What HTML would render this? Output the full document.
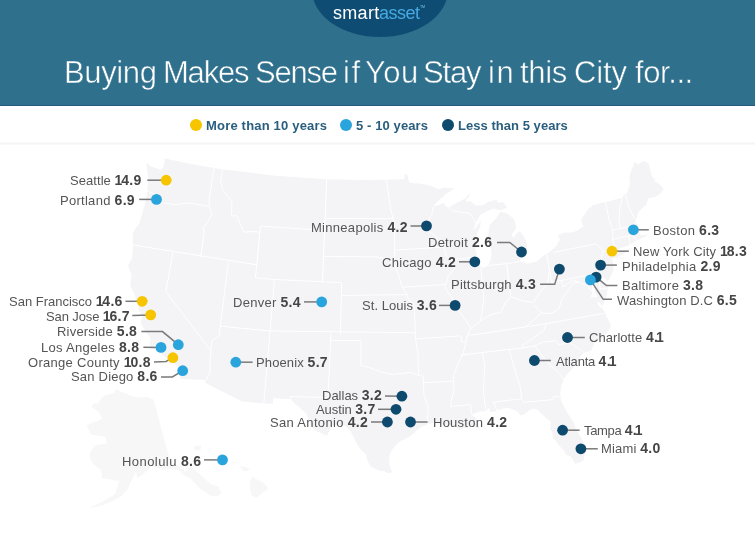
<!DOCTYPE html>
<html><head><meta charset="utf-8"><style>
*{margin:0;padding:0;box-sizing:border-box}
html,body{width:755px;height:536px;overflow:hidden;background:#fff}
body{position:relative;font-family:"Liberation Sans",sans-serif}
.hdr{position:absolute;left:0;top:0;width:755px;height:106px;background:#2f708d;border-bottom:1px solid #245c79;overflow:hidden}
.ell{position:absolute;left:311.5px;top:-57px;width:136px;height:94px;border-radius:50%;background:#0f4c73}
.logo{position:absolute;will-change:transform;top:4.1px;font-size:18px;line-height:18px;color:#fff;white-space:nowrap}
.logo span{color:#4fb0e6}
.tm{position:absolute;left:420px;top:5.2px;font-size:3.6px;line-height:4.5px;color:#7fc3e8;letter-spacing:-0.2px}
.title{position:absolute;will-change:transform;-webkit-text-stroke:0.5px #2f708d;top:56.8px;font-size:31px;line-height:31px;color:#fff;letter-spacing:-0.305px;white-space:nowrap}
.sep{position:absolute;left:0;top:141.5px;width:755px;height:3.5px;background:linear-gradient(#fbfbfb,#f5f5f5 50%,#fbfbfb)}
.leg{position:absolute;will-change:transform;top:118.6px;font-size:13px;line-height:13px;font-weight:bold;color:#2a5e7e;white-space:nowrap}
.ld{position:absolute;width:12.4px;height:12.4px;border-radius:50%;top:118.8px}
.map,.ov{position:absolute;left:0;top:0}
.lb{position:absolute;will-change:transform;font-size:13px;line-height:13px;color:#555;white-space:nowrap}
.lb b{color:#454545;font-size:14px;letter-spacing:0.3px}
</style></head><body>
<div class="hdr"><div class="ell"></div>
<div class="logo" id="lg0" style="left:332.9px;letter-spacing:0.3px">smart</div><div class="logo" id="lg1" style="left:379.3px;letter-spacing:-0.5px;color:#45a9e1">asset</div><div class="tm">TM</div>
<div class="title" id="tw0" style="left:64.00px;letter-spacing:-0.380px">Buying</div><div class="title" id="tw1" style="left:162.80px;letter-spacing:-1.200px">Makes</div><div class="title" id="tw2" style="left:254.60px;letter-spacing:-1.200px">Sense</div><div class="title" id="tw3" style="left:342.60px;letter-spacing:1.500px">if</div><div class="title" id="tw4" style="left:365.10px;letter-spacing:0.450px">You</div><div class="title" id="tw5" style="left:423.35px;letter-spacing:-1.200px">Stay</div><div class="title" id="tw6" style="left:487.60px;letter-spacing:1.500px">in</div><div class="title" id="tw7" style="left:520.00px;letter-spacing:-0.300px">this</div><div class="title" id="tw8" style="left:574.00px;letter-spacing:-0.167px">City</div><div class="title" id="tw9" style="left:635.00px;letter-spacing:-0.420px">for...</div>
</div>
<div class="sep"></div>
<div class="ld" style="left:189.8px;background:#f6c500"></div><div class="leg" style="left:206.1px;letter-spacing:0.19px">More than 10 years</div>
<div class="ld" style="left:339.8px;background:#2aa4dd"></div><div class="leg" style="left:355.9px;letter-spacing:0.1px">5 - 10 years</div>
<div class="ld" style="left:441.8px;background:#0e4a6d"></div><div class="leg" style="left:458px;letter-spacing:0.04px">Less than 5 years</div>
<svg class="map" width="755" height="536" viewBox="0 0 755 536"><path fill="#f4f4f6" d="M146.6,162.5 L150.5,166.2 L156.4,168.2 L161.0,169.8 L163.3,167.4 L165.0,158.5 L188.5,163.4 L214.0,167.9 L222.5,169.2 L274.9,175.7 L326.7,179.2 L362.2,180.0 L386.4,179.7 L404.6,179.1 L404.5,174.3 L406.2,174.3 L407.4,175.2 L408.8,180.5 L409.4,182.5 L416.5,183.4 L420.2,183.4 L427.4,184.9 L432.8,186.4 L438.3,189.2 L443.5,187.5 L450.7,188.2 L454.4,188.5 L448.3,192.3 L440.7,198.6 L436.5,202.8 L433.1,206.3 L438.4,205.2 L443.7,202.9 L446.7,207.1 L448.5,207.4 L452.9,204.7 L458.1,202.3 L465.0,198.4 L469.1,194.1 L470.1,195.3 L466.8,198.8 L465.8,202.1 L470.6,201.0 L475.6,205.6 L482.9,205.4 L488.0,201.9 L492.4,200.7 L496.9,199.7 L497.7,202.8 L503.1,202.1 L505.3,205.0 L507.4,207.3 L504.8,208.6 L500.8,210.5 L493.3,208.6 L486.3,211.4 L483.7,213.0 L480.3,214.7 L475.6,223.6 L474.5,226.3 L472.6,231.0 L476.0,227.4 L478.4,223.9 L480.9,221.1 L480.1,226.9 L477.1,233.7 L476.4,240.9 L475.4,250.1 L477.1,257.0 L479.6,264.7 L483.0,267.9 L487.6,266.1 L490.4,260.6 L491.6,254.0 L490.7,246.4 L487.8,237.7 L488.8,229.8 L490.1,224.5 L493.9,220.8 L495.9,218.6 L498.6,214.3 L500.8,211.7 L504.9,212.8 L508.9,214.8 L514.1,219.2 L515.8,224.8 L515.9,228.7 L511.5,234.5 L513.9,238.0 L516.1,233.8 L519.7,231.3 L524.1,236.5 L526.9,244.1 L526.9,249.0 L523.6,252.8 L522.1,256.3 L519.4,261.2 L523.0,262.6 L527.1,263.9 L533.7,262.2 L536.5,261.8 L542.5,256.2 L546.9,253.8 L550.6,251.2 L556.3,246.0 L560.0,239.7 L557.8,235.3 L563.6,232.8 L571.3,232.6 L577.6,230.7 L581.0,228.0 L583.5,226.2 L581.5,221.3 L581.2,219.5 L584.8,214.1 L588.5,208.7 L593.4,204.9 L605.5,202.0 L622.2,197.8 L624.9,193.3 L627.4,193.5 L627.9,189.8 L630.2,183.9 L629.3,178.8 L630.3,173.3 L634.6,162.0 L638.3,164.4 L643.0,161.1 L648.3,163.3 L652.3,177.0 L656.4,180.5 L653.0,180.1 L660.7,185.2 L663.7,188.9 L659.8,194.2 L653.9,197.3 L648.3,198.2 L646.2,204.8 L641.4,208.8 L638.4,212.2 L636.2,218.8 L635.3,223.0 L637.7,225.0 L635.0,229.7 L638.2,230.9 L641.4,235.4 L646.2,234.7 L644.8,231.1 L647.1,235.5 L642.9,237.6 L636.7,240.6 L634.0,241.9 L629.8,245.0 L625.2,246.5 L620.5,247.9 L616.3,251.0 L613.8,253.5 L612.4,255.8 L612.0,258.6 L612.4,260.4 L613.4,264.8 L613.4,269.4 L611.5,274.5 L608.7,280.3 L607.4,281.5 L605.3,278.5 L600.6,275.6 L600.4,276.9 L602.9,281.6 L606.6,283.7 L607.8,287.8 L607.0,293.8 L604.9,300.8 L602.3,305.9 L597.7,301.0 L596.7,296.0 L594.7,291.2 L593.2,283.7 L594.1,278.3 L595.6,276.0 L591.7,281.4 L592.7,291.7 L590.8,297.3 L596.9,297.3 L598.0,304.9 L602.4,308.5 L605.4,313.1 L606.8,317.3 L611.1,324.9 L608.9,329.9 L603.1,337.6 L595.3,341.1 L590.8,351.0 L584.6,352.2 L580.9,355.5 L577.8,361.9 L572.5,368.6 L567.9,373.2 L564.0,379.0 L561.3,385.8 L560.2,392.9 L561.0,401.0 L565.0,408.5 L568.2,414.3 L574.1,422.7 L575.5,428.0 L578.0,432.6 L583.8,442.7 L584.3,448.8 L584.9,453.7 L583.4,460.7 L579.7,462.6 L575.2,463.7 L570.5,456.1 L566.2,455.0 L563.0,449.3 L559.7,446.2 L556.0,441.2 L552.6,437.4 L552.5,432.4 L550.3,429.6 L550.8,421.5 L546.4,418.4 L541.3,413.5 L537.4,409.7 L534.0,408.6 L530.2,409.5 L524.7,414.0 L520.0,415.5 L519.1,412.9 L515.4,410.2 L508.6,408.0 L503.2,408.6 L497.9,409.9 L494.7,411.5 L490.4,412.0 L488.9,407.8 L486.0,411.2 L480.5,411.2 L475.2,413.0 L472.0,414.5 L473.3,416.9 L476.7,417.8 L474.9,422.4 L478.5,425.1 L479.9,428.7 L476.5,427.8 L471.9,425.8 L467.7,428.6 L463.2,427.8 L460.1,429.9 L455.5,427.2 L449.8,425.2 L444.3,425.0 L437.6,423.0 L433.3,423.0 L427.3,424.3 L421.4,427.1 L417.7,429.4 L414.0,433.1 L409.7,436.4 L404.2,439.2 L399.9,441.8 L395.5,445.7 L391.2,450.8 L389.6,455.8 L389.1,459.5 L389.7,465.6 L392.1,472.2 L388.1,473.2 L384.7,471.3 L379.1,470.8 L373.4,467.9 L370.0,466.1 L367.8,461.2 L365.6,453.9 L361.2,450.2 L356.8,444.1 L353.0,436.0 L350.4,431.1 L345.0,425.8 L338.5,424.8 L334.7,424.8 L330.9,426.6 L329.1,431.6 L327.3,435.3 L325.6,435.6 L321.9,433.3 L316.5,431.3 L311.3,426.8 L309.3,421.7 L306.5,414.1 L300.4,408.2 L294.3,402.9 L291.3,399.6 L290.8,399.2 L273.3,398.2 L272.8,403.9 L242.3,401.6 L222.8,391.8 L204.8,382.6 L206.1,380.0 L180.7,379.0 L179.9,375.4 L180.0,371.5 L177.5,367.3 L174.5,363.5 L171.0,362.1 L170.4,359.6 L169.6,357.8 L166.5,357.7 L162.8,355.1 L158.3,351.1 L153.4,349.3 L150.6,349.1 L149.8,343.1 L150.5,339.2 L148.6,335.6 L145.3,331.6 L140.8,322.8 L141.1,318.9 L143.2,316.0 L141.5,314.2 L138.2,310.3 L138.2,305.0 L138.7,302.7 L135.4,299.1 L135.2,295.1 L130.1,285.9 L131.6,274.2 L129.5,269.7 L128.0,265.3 L130.4,261.2 L132.0,258.2 L133.1,248.3 L132.8,240.8 L132.9,233.5 L135.6,228.0 L139.4,223.5 L142.7,212.2 L144.2,207.2 L145.6,200.8 L147.4,191.8 L147.6,186.5 L148.0,182.6 L148.2,177.3 L146.9,170.3 L146.6,162.5 Z M612.0,258.6 L615.8,257.9 L623.0,254.0 L631.0,247.7 L626.0,249.9 L620.5,251.9 L614.1,254.5 L612.0,258.6 Z"/><path fill="#f7f7f8" d="M153.5,399.4 L147.0,397.1 L141.7,397.4 L135.3,396.9 L130.6,396.0 L126.2,393.2 L121.4,392.1 L116.3,389.3 L113.8,392.7 L110.0,394.0 L104.6,395.5 L101.8,397.8 L97.9,403.5 L93.6,403.3 L91.8,406.9 L96.2,410.3 L99.4,413.1 L102.3,418.7 L98.2,420.8 L94.0,422.1 L86.7,425.5 L90.2,433.6 L93.4,435.0 L100.3,436.0 L106.1,437.3 L106.1,440.9 L106.7,444.6 L102.1,443.9 L95.4,445.6 L92.0,449.3 L89.3,455.2 L91.8,461.6 L94.2,465.0 L100.8,469.8 L102.2,478.8 L107.5,478.8 L114.5,480.4 L119.7,480.8 L114.8,494.2 L107.4,499.1 L99.8,503.0 L91.8,506.6 L90.5,507.8 L101.6,505.5 L111.2,501.7 L120.5,496.8 L127.3,490.0 L130.3,482.8 L136.0,472.0 L137.4,477.8 L141.5,475.5 L146.0,471.7 L151.7,466.1 L155.2,467.2 L162.4,470.1 L170.5,468.8 L175.8,469.3 L179.6,470.7 L184.7,475.7 L191.0,478.7 L195.3,483.7 L200.0,488.6 L205.0,491.7 L210.4,495.5 L216.8,496.4 L221.5,493.0 L218.8,486.8 L210.7,484.3 L200.7,475.0 L190.1,465.7 L185.2,471.7 L177.9,465.0 L171.6,466.3 L153.5,399.4 Z M251.8,476.6 L263.8,482.9 L268.3,488.4 L256.4,497.7 L251.1,494.8 L249.6,484.5 L251.8,476.6 Z M239.8,465.6 L250.2,468.7 L247.3,471.1 L243.5,471.1 L239.8,465.6 Z M216.3,455.6 L221.2,453.7 L225.6,460.1 L218.9,460.0 L216.3,455.6 Z M193.7,446.5 L201.2,445.7 L200.4,450.5 L194.4,449.6 L193.7,446.5 Z M230.8,461.7 L239.8,462.4 L230.8,463.2 L230.8,461.7 Z"/><path fill="none" stroke="#fff" stroke-width="1" stroke-linejoin="round" d="M147.1,191.1 L155.7,194.3 L156.8,197.9 L161.4,202.9 L170.4,204.0 L176.7,204.6 L185.2,203.3 L190.7,203.3 L209.3,206.4 M214.0,167.9 L209.0,200.7 L209.3,206.4 M209.3,206.4 L212.1,213.4 L208.3,220.7 L203.5,227.8 L204.0,234.5 L200.5,257.7 M133.8,245.1 L256.7,264.8 M172.8,253.1 L165.9,291.7 L211.0,351.0 M211.0,351.0 L210.0,360.0 L210.0,371.7 L206.1,380.0 M211.0,351.0 L211.6,340.7 L218.9,336.4 L228.5,261.7 M222.5,169.2 L220.7,182.2 L222.7,189.8 L231.9,201.9 L231.5,216.2 L236.6,215.5 L243.8,232.1 L255.9,231.5 L260.0,232.8 M260.6,226.1 L255.4,277.8 L274.5,279.5 M260.6,226.1 L324.6,230.5 M220.2,326.1 L270.1,331.0 M274.5,279.5 L263.8,403.3 M274.5,279.5 L341.7,282.6 M322.5,282.2 L326.7,179.2 M325.1,218.4 L393.2,218.7 M323.6,256.3 L375.8,256.9 L385.2,258.6 L393.8,262.9 M341.7,282.6 L340.4,334.1 M341.4,295.5 L407.2,294.6 M270.1,331.0 L415.3,332.7 M330.8,333.9 L330.6,340.4 L328.0,397.6 L290.2,396.4 L291.3,399.2 M330.6,340.4 L361.0,340.6 L360.8,365.4 L369.1,367.3 L381.6,372.2 L392.0,374.4 L402.5,373.4 L410.8,372.4 L418.4,375.3 L423.1,376.2 M423.1,376.2 L424.0,395.7 L428.1,406.7 L427.3,424.3 M418.4,375.3 L418.0,352.9 L415.5,339.0 L414.2,305.8 L407.2,297.1 L407.2,294.6 L402.4,287.3 M423.4,382.8 L453.6,381.0 M386.4,179.7 L390.8,210.3 L393.2,218.7 L394.4,226.8 L394.9,250.0 L393.8,262.9 M393.8,262.9 L398.9,275.6 L402.1,287.1 L402.4,287.3 M394.9,250.0 L443.8,247.2 M433.1,206.9 L431.8,214.7 L427.6,221.4 L428.5,230.3 L436.8,237.5 L443.8,247.2 M443.8,247.2 L446.5,256.0 L450.6,259.6 L455.1,268.2 L448.0,276.5 L444.8,287.1 L449.3,294.5 L458.0,305.3 L458.4,310.4 L466.3,321.2 L470.9,328.4 M402.4,287.3 L444.7,284.5 M470.9,328.4 L467.5,335.2 L466.0,341.7 L462.9,354.8 L458.3,362.8 L453.9,374.6 L453.6,381.0 L454.0,391.0 L451.4,400.0 L450.8,406.4 M415.5,339.0 L460.9,335.8 L461.9,342.1 L466.0,341.7 M450.8,406.4 L470.7,404.6 L471.5,414.6 M460.8,355.0 L522.4,348.0 M482.5,352.8 L484.7,365.3 L483.4,392.0 L485.9,410.6 M509.2,349.6 L516.6,375.4 L520.1,386.3 L521.7,398.7 M496.8,410.6 L493.8,402.2 L521.7,398.7 L523.2,402.3 L552.5,399.6 L554.2,396.4 L559.8,396.8 M467.5,335.2 L482.1,333.7 L526.1,326.8 L546.6,323.6 M546.6,323.6 L544.0,330.5 L534.6,337.1 L522.2,345.3 L522.4,348.0 M546.6,323.6 L604.7,313.2 M522.4,348.0 L534.9,346.0 L541.7,342.4 L556.1,340.7 L558.9,344.7 L570.1,342.7 L584.1,352.3 M534.9,346.0 L546.8,362.1 L555.4,369.6 L564.0,379.0 M526.1,326.8 L541.3,312.8 L534.1,305.3 M541.3,312.8 L551.7,313.7 L559.1,308.6 L562.3,297.6 L569.0,289.9 L573.7,282.4 L578.8,282.7 M470.9,328.4 L480.4,321.1 L490.9,314.7 L500.7,312.2 L505.6,302.6 L510.8,296.7 L522.4,300.9 L533.7,302.4 L536.9,296.8 L541.0,290.9 L547.8,283.3 L549.5,270.8 M480.7,266.9 L483.8,297.5 L481.8,314.5 L480.4,321.1 M450.6,259.6 L477.1,257.0 M484.7,265.7 L506.7,263.7 L519.5,261.5 M506.7,263.7 L510.8,296.7 M546.7,253.6 L551.5,282.4 M551.5,282.4 L597.2,273.4 M561.5,280.6 L562.7,287.1 L573.2,279.9 L579.8,282.6 L587.6,286.2 L596.7,296.0 M553.9,252.3 L595.4,243.9 L598.3,245.9 L603.3,250.7 M603.3,250.7 L601.0,258.4 L603.0,263.2 L606.1,265.8 L600.8,271.6 M603.3,250.7 L611.8,253.5 M597.2,273.4 L600.5,289.3 L607.8,287.8 M605.5,202.0 L609.1,219.7 L612.9,230.0 L612.6,239.3 L615.2,249.9 L614.2,252.8 M622.2,197.8 L619.8,207.8 L619.0,222.6 L620.4,228.4 M612.9,230.0 L631.1,226.1 L635.2,222.8 M624.9,193.3 L629.8,209.2 L635.4,219.7 M612.6,239.3 L628.6,235.8 L632.5,234.8 L636.5,240.6 M628.6,235.8 L630.3,244.9 M448.5,207.4 L451.5,210.6 L461.7,212.2 L470.0,213.3 L474.3,219.9 L475.6,223.6"/></svg>
<svg class="ov" width="755" height="536" viewBox="0 0 755 536"><g fill="none" stroke="#7a7a7a" stroke-width="1.5"><polyline points="147.3,180.2 166.2,180.2"/><polyline points="139.2,199.4 156.5,199.4"/><polyline points="125.5,301.3 142.2,301.3"/><polyline points="132.3,315.6 150.7,314.9"/><polyline points="141.4,331.6 162.5,331.6 178.3,344.7"/><polyline points="143.4,347.2 161.0,347.4"/><polyline points="154.0,362.0 166.0,361.5 172.9,357.7"/><polyline points="161.0,376.9 172.4,376.9 182.7,370.7"/><polyline points="304.0,301.9 321.7,301.9"/><polyline points="410.5,226.0 426.5,225.9"/><polyline points="497.0,242.4 509.8,242.4 521.5,252.0"/><polyline points="459.0,261.8 474.8,261.8"/><polyline points="540.1,284.3 554.7,284.3 559.4,269.1"/><polyline points="439.0,305.4 455.1,305.4"/><polyline points="385.0,396.0 401.9,396.2"/><polyline points="378.0,409.3 396.0,409.3"/><polyline points="371.0,422.0 387.4,422.0"/><polyline points="204.0,459.9 222.5,459.9"/><polyline points="235.8,362.2 252.6,362.2"/><polyline points="633.4,229.8 648.8,229.8"/><polyline points="612.0,251.2 628.8,251.2"/><polyline points="600.6,265.1 616.9,265.1"/><polyline points="596.1,277.1 606.5,285.6 617.4,285.6"/><polyline points="590.4,279.9 603.2,299.3 612.0,299.3"/><polyline points="567.5,337.5 584.8,337.5"/><polyline points="534.4,360.5 550.8,360.5"/><polyline points="562.6,430.2 579.6,430.2"/><polyline points="580.9,448.8 597.8,448.8"/><polyline points="410.5,422.0 427.7,422.0"/></g><circle cx="166.2" cy="180.2" r="5.4" fill="#f6c500"/><circle cx="156.5" cy="199.4" r="5.4" fill="#2aa4dd"/><circle cx="142.2" cy="301.3" r="5.4" fill="#f6c500"/><circle cx="150.7" cy="314.9" r="5.4" fill="#f6c500"/><circle cx="178.3" cy="344.7" r="5.4" fill="#2aa4dd"/><circle cx="161" cy="347.4" r="5.4" fill="#2aa4dd"/><circle cx="172.9" cy="357.7" r="5.4" fill="#f6c500"/><circle cx="182.7" cy="370.7" r="5.4" fill="#2aa4dd"/><circle cx="321.7" cy="301.9" r="5.4" fill="#2aa4dd"/><circle cx="426.5" cy="225.9" r="5.4" fill="#0e4a6d"/><circle cx="521.5" cy="252" r="5.4" fill="#0e4a6d"/><circle cx="474.8" cy="261.8" r="5.4" fill="#0e4a6d"/><circle cx="559.4" cy="269.1" r="5.4" fill="#0e4a6d"/><circle cx="455.1" cy="305.4" r="5.4" fill="#0e4a6d"/><circle cx="401.9" cy="396.2" r="5.4" fill="#0e4a6d"/><circle cx="396" cy="409.3" r="5.4" fill="#0e4a6d"/><circle cx="387.4" cy="422" r="5.4" fill="#0e4a6d"/><circle cx="222.5" cy="459.9" r="5.4" fill="#2aa4dd"/><circle cx="235.8" cy="362.2" r="5.4" fill="#2aa4dd"/><circle cx="633.4" cy="229.8" r="5.4" fill="#2aa4dd"/><circle cx="612" cy="251.2" r="5.4" fill="#f6c500"/><circle cx="600.6" cy="265.1" r="5.4" fill="#0e4a6d"/><circle cx="596.1" cy="277.1" r="5.4" fill="#0e4a6d"/><circle cx="567.5" cy="337.5" r="5.4" fill="#0e4a6d"/><circle cx="534.4" cy="360.5" r="5.4" fill="#0e4a6d"/><circle cx="562.6" cy="430.2" r="5.4" fill="#0e4a6d"/><circle cx="580.9" cy="448.8" r="5.4" fill="#0e4a6d"/><circle cx="410.5" cy="422" r="5.4" fill="#0e4a6d"/><circle cx="590.4" cy="279.9" r="5.4" fill="#2aa4dd"/></svg>
<div class="lb" id="Seattle" style="left:70.4px;top:174.1px;letter-spacing:0.063px">Seattle <b><span style="margin-right:-1.5px">1</span>4.9</b></div><div class="lb" id="Portland" style="left:59.6px;top:193.5px;letter-spacing:0.278px">Portland <b>6.9</b></div><div class="lb" id="San_Francisco" style="left:9.0px;top:295.4px;letter-spacing:0.000px">San Francisco <b><span style="margin-right:-1.5px">1</span>4.6</b></div><div class="lb" id="San_Jose" style="left:46.2px;top:310.0px;letter-spacing:-0.111px">San Jose <b><span style="margin-right:-1.5px">1</span>6.7</b></div><div class="lb" id="Riverside" style="left:56.8px;top:325.1px;letter-spacing:0.200px">Riverside <b>5.8</b></div><div class="lb" id="Los_Angeles" style="left:41.2px;top:340.9px;letter-spacing:0.292px">Los Angeles <b>8.8</b></div><div class="lb" id="Orange_County" style="left:27.8px;top:355.8px;letter-spacing:0.286px">Orange County <b><span style="margin-right:-1.5px">1</span>0.8</b></div><div class="lb" id="San_Diego" style="left:70.6px;top:370.4px;letter-spacing:0.200px">San Diego <b>8.6</b></div><div class="lb" id="Denver" style="left:232.8px;top:295.7px;letter-spacing:0.286px">Denver <b>5.4</b></div><div class="lb" id="Minneapolis" style="left:311.2px;top:220.5px;letter-spacing:0.292px">Minneapolis <b>4.2</b></div><div class="lb" id="Detroit" style="left:427.6px;top:236.4px;letter-spacing:0.250px">Detroit <b>2.6</b></div><div class="lb" id="Chicago" style="left:382.2px;top:256.1px;letter-spacing:0.312px">Chicago <b>4.2</b></div><div class="lb" id="Pittsburgh" style="left:451.0px;top:278.3px;letter-spacing:0.227px">Pittsburgh <b>4.3</b></div><div class="lb" id="St_Louis" style="left:362.0px;top:299.3px;letter-spacing:0.050px">St. Louis <b>3.6</b></div><div class="lb" id="Dallas" style="left:322.4px;top:389.4px;letter-spacing:-0.000px">Dallas <b>3.2</b></div><div class="lb" id="Austin" style="left:316.2px;top:403.2px;letter-spacing:-0.071px">Austin <b>3.7</b></div><div class="lb" id="San_Antonio" style="left:270.4px;top:415.6px;letter-spacing:0.333px">San Antonio <b>4.2</b></div><div class="lb" id="Honolulu" style="left:122.4px;top:454.5px;letter-spacing:0.444px">Honolulu <b>8.6</b></div><div class="lb" id="Phoenix" style="left:256.0px;top:356.0px;letter-spacing:0.125px">Phoenix <b>5.7</b></div><div class="lb" id="Boston" style="left:652.8px;top:223.9px;letter-spacing:0.286px">Boston <b>6.3</b></div><div class="lb" id="New_York_City" style="left:633.4px;top:245.2px;letter-spacing:0.179px">New York City <b><span style="margin-right:-1.5px">1</span>8.3</b></div><div class="lb" id="Philadelphia" style="left:622.0px;top:259.5px;letter-spacing:0.308px">Philadelphia <b>2.9</b></div><div class="lb" id="Baltimore" style="left:622.0px;top:279.4px;letter-spacing:0.250px">Baltimore <b>3.8</b></div><div class="lb" id="Washington_DC" style="left:616.8px;top:293.6px;letter-spacing:0.133px">Washington D.C <b>6.5</b></div><div class="lb" id="Charlotte" style="left:589.4px;top:331.2px;letter-spacing:0.050px">Charlotte <b>4.<span style="margin-left:-2.2px">1</span></b></div><div class="lb" id="Atlanta" style="left:556.2px;top:354.7px;letter-spacing:-0.187px">Atlanta <b>4.<span style="margin-left:-2.2px">1</span></b></div><div class="lb" id="Tampa" style="left:584.4px;top:424.0px;letter-spacing:-0.333px">Tampa <b>4.<span style="margin-left:-2.2px">1</span></b></div><div class="lb" id="Miami" style="left:601.2px;top:442.2px;letter-spacing:0.167px">Miami <b>4.0</b></div><div class="lb" id="Houston" style="left:432.6px;top:415.6px;letter-spacing:0.250px">Houston <b>4.2</b></div>
</body></html>
